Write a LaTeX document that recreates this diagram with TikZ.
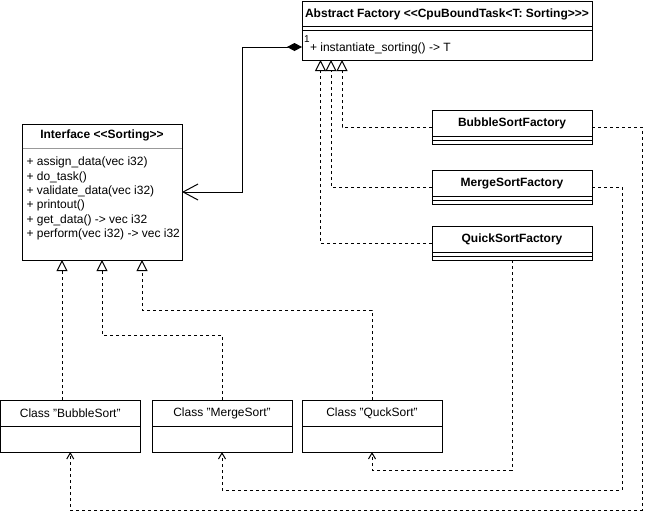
\documentclass[tikz,border=0pt]{standalone}
\usepackage{fontspec}
\setmainfont{Liberation Sans}
\usetikzlibrary{arrows.meta}
\begin{document}
\begin{tikzpicture}[x=1pt,y=-1pt,line width=1pt,
  box/.style={draw,rectangle,inner sep=0pt,outer sep=0pt,line width=1pt},
  lbl/.style={inner sep=0pt,font=\fontsize{12pt}{14.4pt}\selectfont},
  blbl/.style={inner sep=0pt,font=\fontsize{12pt}{14.4pt}\selectfont\bfseries},
  divider/.style={line width=1pt},
  dashpat/.style={dash pattern=on 3pt off 3pt},
  realize/.style={dashpat,-{Triangle[open,length=11pt,width=11pt,line width=1pt]}},
  depend/.style={dashpat,-{Straight Barb[length=6pt,width=7pt,line width=1pt]}},
  compose/.style={{Diamond[length=15pt,width=8pt]}-{Straight Barb[length=15pt,width=16pt,line width=1pt]}}
]
\useasboundingbox (0,0) rectangle (652,520);

% Abstract factory
\node[box,minimum width=290pt,minimum height=59pt] (af) at (447,30.5) {};
\draw[divider] (302,26) -- (592,26);
\draw[divider] (302,30) -- (592,30);
\node[blbl] (aft) at (447,14) {Abstract Factory <{}<CpuBoundTask<T: Sorting>{}>{}>};
\node[lbl,anchor=west,font=\fontsize{10pt}{12pt}\selectfont] (one) at (303.5,39.5) {1};
\node[lbl,anchor=west] (afm) at (309.5,48) {+ instantiate\_sorting() -> T};

% Interface
\node[box,minimum width=160pt,minimum height=136pt] (iface) at (102,192) {};
\draw[divider,color=black!40] (22.5,148) -- (181.5,148);
\node[blbl] (ifacet) at (102,135.5) {Interface <{}<Sorting>{}>};
\node[lbl,anchor=west,align=left,font=\fontsize{12pt}{14.3pt}\selectfont] (ifacem) at (26,198.5)
 {+ assign\_data(vec i32)\\+ do\_task()\\+ validate\_data(vec i32)\\+ printout()\\+ get\_data() -> vec i32\\+ perform(vec i32) -> vec i32};

% Factories
\node[box,minimum width=160pt,minimum height=34pt] (bsf) at (512,127) {};
\draw[divider] (432,136) -- (592,136);
\draw[divider] (432,140) -- (592,140);
\node[blbl] (bsft) at (512,123.5) {BubbleSortFactory};

\node[box,minimum width=160pt,minimum height=34pt] (msf) at (512,187) {};
\draw[divider] (432,196) -- (592,196);
\draw[divider] (432,200) -- (592,200);
\node[blbl] (msft) at (512,183.5) {MergeSortFactory};

\node[box,minimum width=160pt,minimum height=34pt] (qsf) at (512,243) {};
\draw[divider] (432,252) -- (592,252);
\draw[divider] (432,256) -- (592,256);
\node[blbl] (qsft) at (512,239.5) {QuickSortFactory};

% Classes
\node[box,minimum width=139.5pt,minimum height=52pt] (bs) at (70.25,426) {};
\draw[divider] (0.5,426) -- (140,426);
\node[lbl] (bst) at (70.25,413) {Class "BubbleSort"};

\node[box,minimum width=140pt,minimum height=52pt] (ms) at (222,426) {};
\draw[divider] (152,426) -- (292,426);
\node[lbl] (mst) at (222,413) {Class "MergeSort"};

\node[box,minimum width=140pt,minimum height=52pt] (qs) at (372,426) {};
\draw[divider] (302,426) -- (442,426);
\node[lbl] (qst) at (372,413) {Class "QuckSort"};

% Composition
\draw[compose] ([yshift=13pt]af.south west) -- ++(-60,0) |- (iface.east);

% Realizations of abstract factory
\draw[realize] (bsf.west) -| ([xshift=40pt]af.south west);
\draw[realize] (msf.west) -| ([xshift=29pt]af.south west);
\draw[realize] (qsf.west) -| ([xshift=18.5pt]af.south west);

% Realizations of interface
\coordinate (i1) at ([xshift=40pt]iface.south west);
\coordinate (i2) at ([xshift=80pt]iface.south west);
\coordinate (i3) at ([xshift=120pt]iface.south west);
\draw[realize] (i1 |- bs.north) -- (i1);
\draw[realize] (ms.north) -- ++(0,-65) -| (i2);
\draw[realize] (qs.north) -- ++(0,-90) -| (i3);

% Dependencies
\draw[depend] (bsf.east) -- ++(50,0) -- ++(0,383) -| (bs.south);
\draw[depend] (msf.east) -- ++(30,0) -- ++(0,303) -| (ms.south);
\draw[depend] (qsf.south) -- ++(0,210) -| (qs.south);
\end{tikzpicture}
\end{document}
